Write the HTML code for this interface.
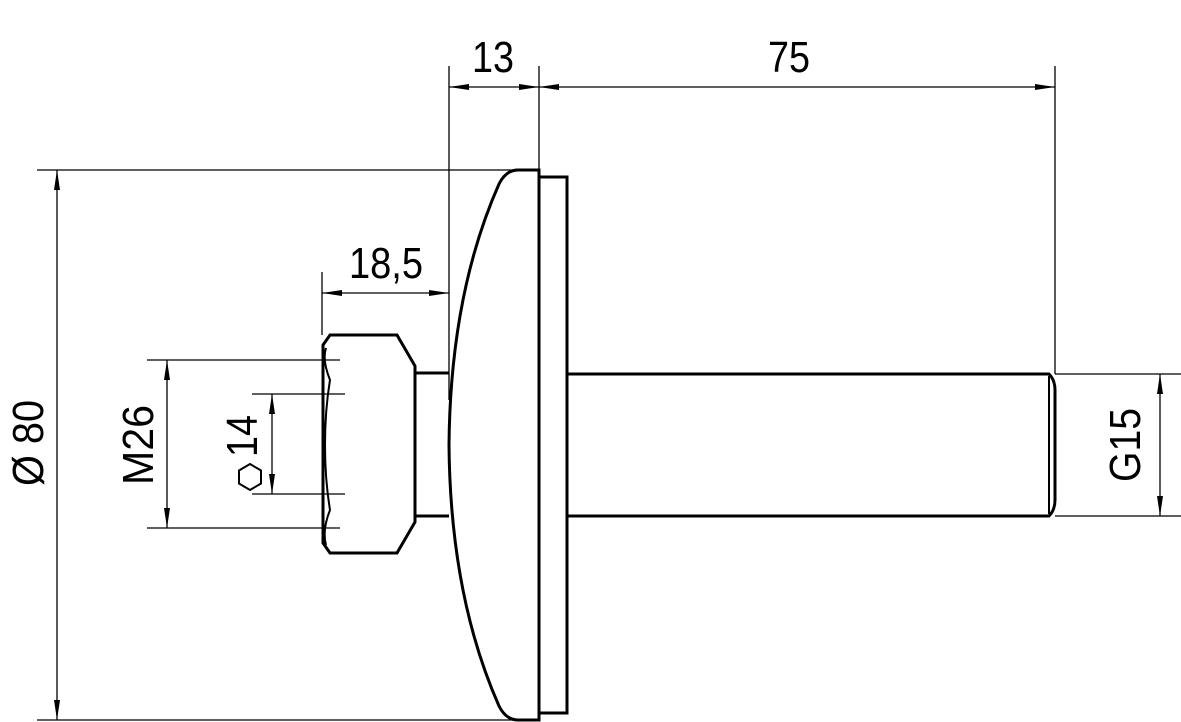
<!DOCTYPE html>
<html><head><style>html,body{margin:0;padding:0;background:#fff}svg{display:block}text{font-family:"Liberation Sans",sans-serif;font-size:44px;fill:#000}</style></head>
<body>
<svg width="1181" height="722" viewBox="0 0 1181 722" xmlns="http://www.w3.org/2000/svg">
<defs>
<marker id="a" viewBox="0 0 20 8" refX="20" refY="4" markerWidth="20" markerHeight="8" markerUnits="userSpaceOnUse" orient="auto-start-reverse"><path d="M0,1 L20,4 L0,7 Z" fill="#000"/></marker>
</defs>
<g stroke="#000" fill="none" stroke-width="1.3">
<!-- extension lines -->
<line x1="37" y1="170" x2="515" y2="170"/>
<line x1="37" y1="720" x2="515" y2="720"/>
<line x1="449" y1="66" x2="449" y2="400"/>
<line x1="539" y1="66" x2="539" y2="170"/>
<line x1="1055" y1="66" x2="1055" y2="374"/>
<line x1="322" y1="272" x2="322" y2="335"/>
<line x1="147" y1="360" x2="340" y2="360"/>
<line x1="147" y1="528" x2="340" y2="528"/>
<line x1="252" y1="394" x2="345" y2="394"/>
<line x1="252" y1="494" x2="345" y2="494"/>
<line x1="1055" y1="374" x2="1181" y2="374"/>
<line x1="1055" y1="516" x2="1181" y2="516"/>
<!-- dimension lines -->
<line x1="57" y1="170" x2="57" y2="720" marker-start="url(#a)" marker-end="url(#a)"/>
<line x1="449" y1="87" x2="539" y2="87" marker-start="url(#a)" marker-end="url(#a)"/>
<line x1="539" y1="87" x2="1055" y2="87" marker-start="url(#a)" marker-end="url(#a)"/>
<line x1="322" y1="293" x2="449" y2="293" marker-start="url(#a)" marker-end="url(#a)"/>
<line x1="167" y1="360" x2="167" y2="528" marker-start="url(#a)" marker-end="url(#a)"/>
<line x1="272" y1="394" x2="272" y2="494" marker-start="url(#a)" marker-end="url(#a)"/>
<line x1="1160" y1="374" x2="1160" y2="516" marker-start="url(#a)" marker-end="url(#a)"/>
</g>
<g stroke="#000" fill="none" stroke-width="3">
<!-- flange -->
<path d="M539,170 L518,170 Q506,170 499,184 C472,245 450,330 449,445 C450,560 472,645 499,706 Q506,720 518,720 L539,720 Z"/>
<rect x="539" y="177" width="28" height="536"/>
<!-- shaft -->
<path d="M567,374 L1049,374 Q1055,380 1055,390 L1055,500 Q1055,510 1049,516 L567,516"/>
<line x1="1049" y1="376" x2="1049" y2="514" stroke-width="2"/>
<!-- neck -->
<path d="M449,373 L415,373 L415,516 L449,516"/>
<!-- nut -->
<path d="M330,335 L397,335 L415,366 L415,522 L397,553 L330,553 L323,543 L323,345 Z"/>
<path d="M326,348 Q322,360 330,380 Q325,410 325,445 Q325,480 330,510 Q322,530 326,545" stroke-width="2"/>
<!-- hex symbol -->
<polygon points="250,464 261,470.5 261,483.5 250,490 239,483.5 239,470.5" stroke-width="2"/>
</g>
<g>
<text x="493" y="72" text-anchor="middle" textLength="42" lengthAdjust="spacingAndGlyphs">13</text>
<text x="789" y="72" text-anchor="middle" textLength="42" lengthAdjust="spacingAndGlyphs">75</text>
<text x="386" y="278" text-anchor="middle" textLength="74" lengthAdjust="spacingAndGlyphs">18,5</text>
<text transform="translate(43,443) rotate(-90)" text-anchor="middle" textLength="86" lengthAdjust="spacingAndGlyphs">Ø 80</text>
<text transform="translate(153,445) rotate(-90)" text-anchor="middle" textLength="80" lengthAdjust="spacingAndGlyphs">M26</text>
<text transform="translate(257,436) rotate(-90)" text-anchor="middle" textLength="42" lengthAdjust="spacingAndGlyphs">14</text>
<text transform="translate(1140,445) rotate(-90)" text-anchor="middle" textLength="74" lengthAdjust="spacingAndGlyphs">G15</text>
</g>
</svg>
</body></html>
